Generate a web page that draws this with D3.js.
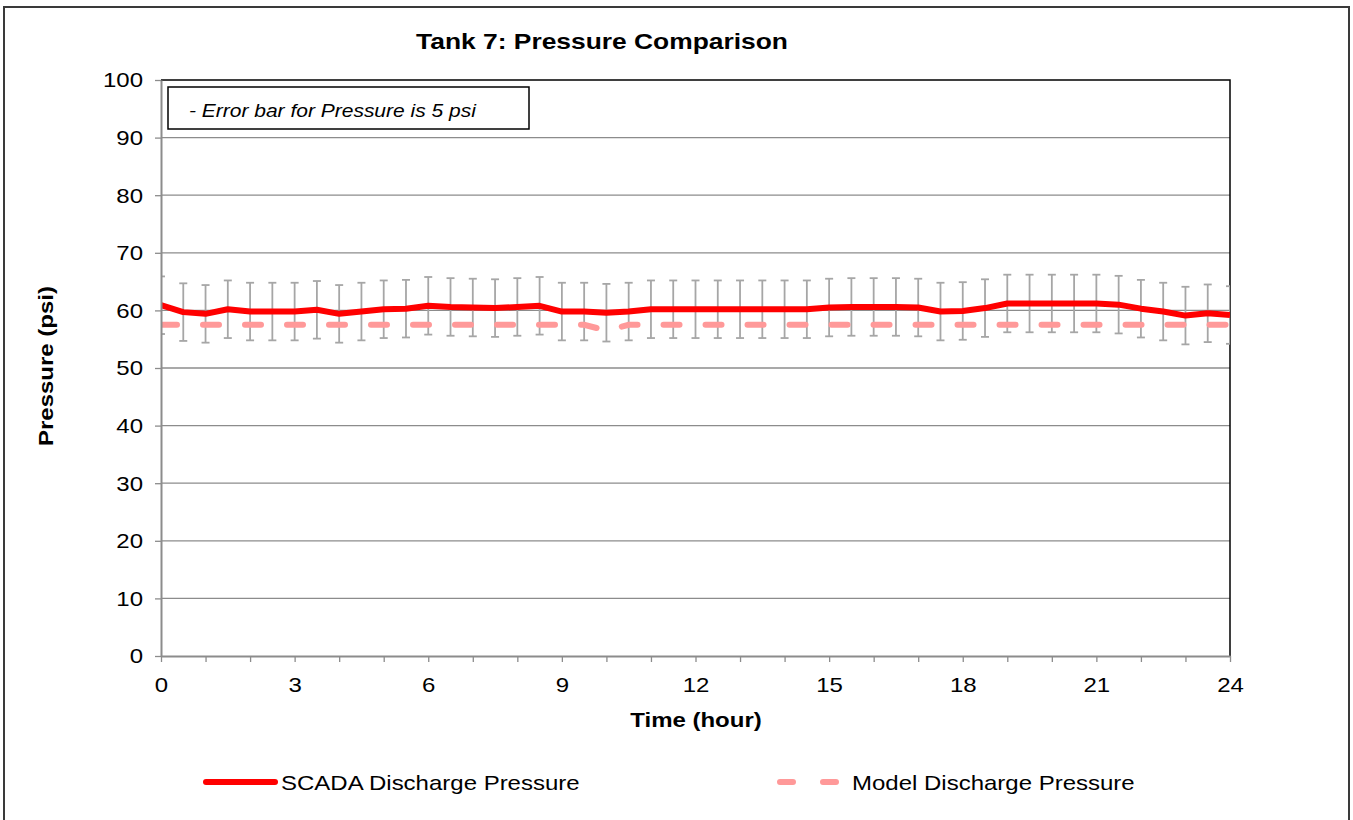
<!DOCTYPE html>
<html>
<head>
<meta charset="utf-8">
<script src="https://cdn.jsdelivr.net/npm/d3@7"></script>
<style>
  body { margin: 0; background: #fff; }
  text { font-family: "Liberation Sans", Arial, sans-serif; }
</style>
</head>
<body>
<svg></svg>
<script>
var width = 1353, height = 820;

// hours 0..24 every half hour
var hours = d3.range(0, 24.01, 0.5);
var scadaPressure = [
  60.9, 59.7, 59.4, 60.2, 59.8, 59.8, 59.8, 60.1, 59.4, 59.8,
  60.2, 60.3, 60.8, 60.6, 60.5, 60.4, 60.6, 60.8, 59.8, 59.8,
  59.6, 59.8, 60.2, 60.2, 60.2, 60.2, 60.2, 60.2, 60.2, 60.2,
  60.5, 60.6, 60.6, 60.6, 60.5, 59.8, 59.9, 60.4, 61.2, 61.2,
  61.2, 61.2, 61.2, 61.0, 60.3, 59.8, 59.1, 59.5, 59.2
];
var modelPressure = [
  57.5, 57.5, 57.5, 57.5, 57.5, 57.5, 57.5, 57.5, 57.5, 57.5,
  57.5, 57.5, 57.5, 57.5, 57.5, 57.5, 57.5, 57.5, 57.5, 57.5,
  56.5, 57.5, 57.5, 57.5, 57.5, 57.5, 57.5, 57.5, 57.5, 57.5,
  57.5, 57.5, 57.5, 57.5, 57.5, 57.5, 57.5, 57.5, 57.5, 57.5,
  57.5, 57.5, 57.5, 57.5, 57.5, 57.5, 57.5, 57.5, 57.5
];
var errorPsi = 5;
var xTicks = [0, 3, 6, 9, 12, 15, 18, 21, 24];
var yTicks = d3.range(0, 101, 10);
var seriesNames = ["SCADA Discharge Pressure", "Model Discharge Pressure"];

// the original font runs wider than Liberation Sans
var stretch = 1.2;

var svg = d3.select('svg')
  .attr('width', width)
  .attr('height', height);

// outer chart frame
svg.append('rect')
  .attr('x', 4).attr('y', 7)
  .attr('width', 1345).attr('height', 830)
  .attr('fill', '#fff')
  .attr('stroke', '#3a3a3a')
  .attr('stroke-width', 2);

var pLeft = 161, pRight = 1230, pTop = 80, pBottom = 656;

var x = d3.scaleLinear().domain([0, 24]).range([pLeft, pRight]);
var y = d3.scaleLinear().domain([0, 100]).range([pBottom, pTop]);

function label(px, py, str, size, rot) {
  return svg.append('text')
    .attr('transform', `translate(${px},${py}) rotate(${rot || 0}) scale(${stretch},1)`)
    .attr('font-size', size)
    .text(str);
}

// gridlines
svg.append('g')
  .selectAll('line')
  .data(yTicks.filter(d => d > 0 && d < 100))
  .enter().append('line')
    .attr('x1', pLeft).attr('x2', pRight)
    .attr('y1', d => y(d)).attr('y2', d => y(d))
    .attr('stroke', '#8c8c8c')
    .attr('stroke-width', 1.3);

// plot area top/right border
svg.append('path')
  .attr('d', `M${pLeft},${pTop}H${pRight}V${pBottom}`)
  .attr('fill', 'none')
  .attr('stroke', '#000')
  .attr('stroke-width', 1.5);

svg.append('clipPath').attr('id', 'plotclip')
  .append('rect')
  .attr('x', pLeft).attr('y', pTop)
  .attr('width', pRight - pLeft).attr('height', pBottom - pTop);

var plot = svg.append('g').attr('clip-path', 'url(#plotclip)');

var scada = hours.map((h, i) => ({ h: h, v: scadaPressure[i] }));
var model = hours.map((h, i) => ({ h: h, v: modelPressure[i] }));

// error bars
var eb = plot.append('g')
  .attr('stroke', '#a6a6a6')
  .attr('stroke-width', 1.8)
  .selectAll('g')
  .data(scada)
  .enter().append('g');
eb.append('line')
  .attr('x1', d => x(d.h)).attr('x2', d => x(d.h))
  .attr('y1', d => y(d.v + errorPsi)).attr('y2', d => y(d.v - errorPsi));
eb.append('line')
  .attr('x1', d => x(d.h) - 4).attr('x2', d => x(d.h) + 4)
  .attr('y1', d => y(d.v + errorPsi)).attr('y2', d => y(d.v + errorPsi));
eb.append('line')
  .attr('x1', d => x(d.h) - 4).attr('x2', d => x(d.h) + 4)
  .attr('y1', d => y(d.v - errorPsi)).attr('y2', d => y(d.v - errorPsi));

var line = d3.line()
  .x(d => x(d.h))
  .y(d => y(d.v));

plot.append('path')
  .datum(model)
  .attr('d', line)
  .attr('fill', 'none')
  .attr('stroke', '#ff9999')
  .attr('stroke-width', 6)
  .attr('stroke-linecap', 'round')
  .attr('stroke-dasharray', '16,26');

plot.append('path')
  .datum(scada)
  .attr('d', line)
  .attr('fill', 'none')
  .attr('stroke', '#ff0000')
  .attr('stroke-width', 6)
  .attr('stroke-linejoin', 'round');

// y axis
var yAxis = svg.append('g')
  .attr('transform', `translate(${pLeft},0)`)
  .call(d3.axisLeft(y).tickValues(yTicks).tickSize(6).tickSizeOuter(0));
yAxis.select('.domain').attr('stroke', '#8c8c8c').attr('stroke-width', 2);
yAxis.selectAll('.tick line').attr('stroke', '#8c8c8c').attr('stroke-width', 1.3);
yAxis.selectAll('.tick text')
  .attr('x', 0).attr('dy', '0.34em')
  .attr('transform', `translate(-18,0) scale(${stretch},1)`)
  .attr('font-size', 20).attr('fill', '#000')
  .style('font-family', '"Liberation Sans", Arial, sans-serif');

// x axis: minor ticks every hour, labels every 3
var xAxis = svg.append('g')
  .attr('transform', `translate(0,${pBottom})`)
  .call(d3.axisBottom(x).tickValues(d3.range(0, 25, 1)).tickSize(6).tickSizeOuter(0)
    .tickFormat(d => xTicks.indexOf(d) >= 0 ? d : ''));
xAxis.select('.domain').attr('stroke', '#8c8c8c').attr('stroke-width', 2);
xAxis.selectAll('.tick line').attr('stroke', '#8c8c8c').attr('stroke-width', 1.3);
xAxis.selectAll('.tick text')
  .attr('y', 0).attr('dy', 0)
  .attr('transform', `translate(0,36) scale(${stretch},1)`)
  .attr('font-size', 20).attr('fill', '#000')
  .style('font-family', '"Liberation Sans", Arial, sans-serif');

// titles
label(602, 49, 'Tank 7: Pressure Comparison', 22)
  .attr('text-anchor', 'middle').attr('font-weight', 'bold');

label(696, 727, 'Time (hour)', 20)
  .attr('text-anchor', 'middle').attr('font-weight', 'bold');

label(53, 366, 'Pressure (psi)', 20, -90)
  .attr('text-anchor', 'middle').attr('font-weight', 'bold');

// annotation box
svg.append('rect')
  .attr('x', 168).attr('y', 87)
  .attr('width', 361).attr('height', 42)
  .attr('fill', '#fff')
  .attr('stroke', '#000')
  .attr('stroke-width', 1.5);
label(189, 117, '- Error bar for Pressure is 5 psi', 17.5)
  .attr('font-style', 'italic');

// legend
var legend = svg.append('g');
legend.append('line')
  .attr('x1', 206).attr('x2', 275).attr('y1', 782).attr('y2', 782)
  .attr('stroke', '#ff0000').attr('stroke-width', 6).attr('stroke-linecap', 'round');
label(281, 790, seriesNames[0], 20);
legend.append('line')
  .attr('x1', 780).attr('x2', 836).attr('y1', 782).attr('y2', 782)
  .attr('stroke', '#ff9999').attr('stroke-width', 6).attr('stroke-linecap', 'round')
  .attr('stroke-dasharray', '13,30');
label(852, 790, seriesNames[1], 20);
</script>
</body>
</html>
